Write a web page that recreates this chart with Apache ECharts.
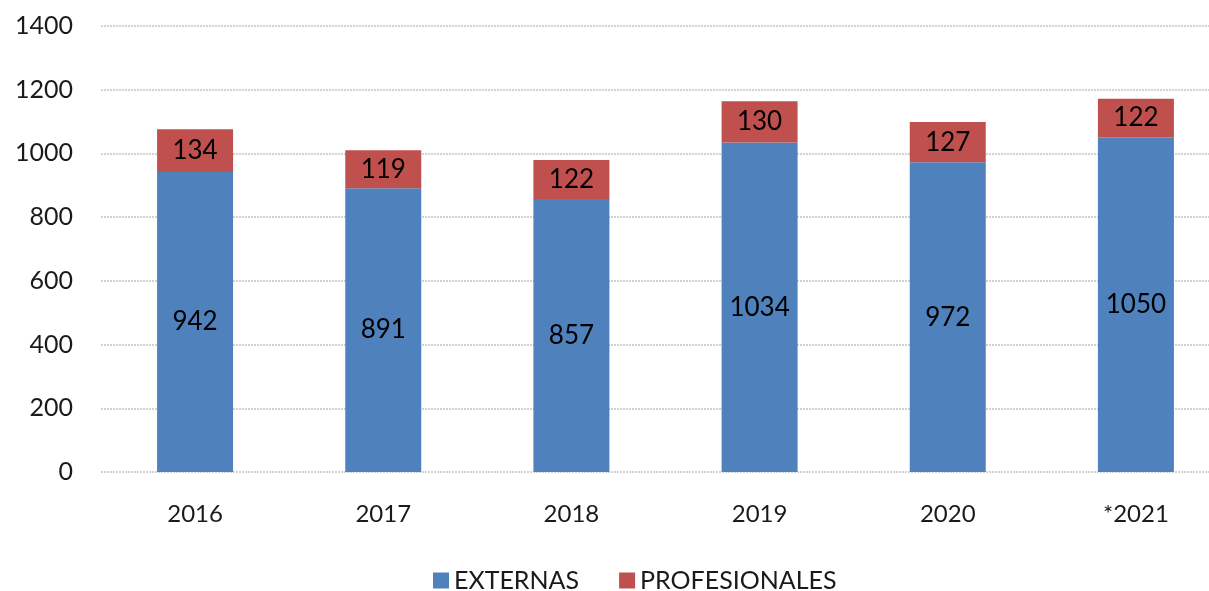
<!DOCTYPE html>
<html>
<head>
<meta charset="utf-8">
<script src="https://cdn.jsdelivr.net/npm/echarts@6/dist/echarts.min.js"></script>
<style>
  html, body { margin: 0; padding: 0; background: #fff; }
  #chart { width: 1209px; height: 591px; }
</style>
</head>
<body>
<div id="chart"></div>
<script>
// datos
var years = ['2016', '2017', '2018', '2019', '2020', '*2021'];
var externas = [942, 891, 857, 1034, 972, 1050];
var profesionales = [134, 119, 122, 130, 127, 122];
var yTicks = [0, 200, 400, 600, 800, 1000, 1200, 1400];

var fuente = 'Lato';

var chart = echarts.init(document.getElementById('chart'));

var option = {
    animation: false,
    textStyle: { fontFamily: fuente },
    legend: {
        data: ['EXTERNAS', 'PROFESIONALES'],
        left: 428,
        top: 563,
        itemWidth: 16,
        itemHeight: 16,
        itemGap: 40,
        icon: 'rect',
        textStyle: { fontSize: 25, color: '#1a1a1a', fontFamily: fuente }
    },
    grid: {
        left: 101,
        right: -21,
        top: 26,
        bottom: 119,
        outerBoundsMode: 'none'
    },
    xAxis: {
        type: 'category',
        data: years,
        axisLine: { show: false },
        axisTick: { show: false },
        axisLabel: { fontSize: 24, color: '#1a1a1a', margin: 30, fontFamily: fuente }
    },
    yAxis: {
        type: 'value',
        min: yTicks[0],
        max: yTicks[yTicks.length - 1],
        interval: 200,
        axisLine: { show: false },
        axisTick: { show: false },
        axisLabel: {
            fontSize: 25, color: '#1a1a1a', margin: 28, fontFamily: fuente,
            formatter: function (v) { return String(v); }
        },
        splitLine: { lineStyle: { color: '#d2d2d2', width: 2, type: [2, 1] } }
    },
    series: [
        {
            name: 'EXTERNAS',
            type: 'bar',
            stack: 'total',
            barWidth: 76,
            data: externas,
            itemStyle: { color: '#4F81BD' },
            label: { show: true, position: 'inside', fontSize: 26, color: '#000', fontFamily: fuente }
        },
        {
            name: 'PROFESIONALES',
            type: 'bar',
            stack: 'total',
            barWidth: 76,
            data: profesionales,
            itemStyle: { color: '#C0504D' },
            label: { show: true, position: 'inside', fontSize: 26, color: '#000', fontFamily: fuente }
        }
    ]
};

chart.setOption(option);
</script>
</body>
</html>
